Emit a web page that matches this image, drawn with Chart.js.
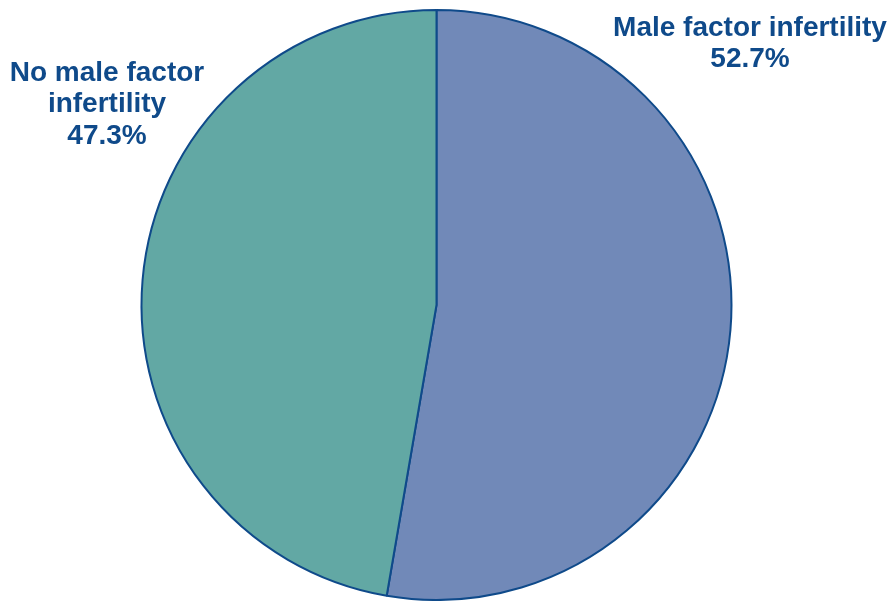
<!DOCTYPE html>
<html lang="en">
<head>
    <meta charset="UTF-8">
    <title>Male factor infertility</title>
    <script src="https://cdn.jsdelivr.net/npm/chart.js"></script>
    <style>
        html, body { margin: 0; padding: 0; background: #ffffff; }
        #wrap { width: 891px; height: 601px; position: relative; }
    </style>
</head>
<body>
<div id="wrap"><canvas id="pieChart"></canvas></div>

<script>
    // Chart data
    const labels = ['Male factor infertility', 'No male factor infertility'];
    const values = [52.7, 47.3];
    const colors = ['#7189b8', '#62a8a4'];
    // how each label is split into lines on the picture
    const labelLines = [
        ['Male factor infertility'],
        ['No male factor', 'infertility']
    ];

    // Draws the outside labels with their percentage
    const outsideLabels = {
        id: 'outsideLabels',
        afterDraw(chart) {
            const ctx = chart.ctx;
            const area = chart.chartArea;
            const spots = [
                {x: area.right - 123, y: 28},
                {x: area.left + 107, y: 73}
            ];
            ctx.save();
            ctx.font = 'bold 28px "Liberation Sans", Arial, sans-serif';
            ctx.fillStyle = '#0f4a8a';
            ctx.textAlign = 'center';
            ctx.textBaseline = 'middle';
            labelLines.forEach((lines, i) => {
                const all = lines.concat([values[i].toFixed(1) + '%']);
                all.forEach((t, j) => {
                    ctx.fillText(t, spots[i].x, spots[i].y + j * 31.5);
                });
            });
            ctx.restore();
        }
    };

    new Chart(document.getElementById('pieChart'), {
        type: 'pie',
        data: {
            labels: labels,
            datasets: [{
                data: values,
                backgroundColor: colors,
                borderColor: '#0f4a8a',
                borderWidth: 2
            }]
        },
        options: {
            responsive: true,
            maintainAspectRatio: false,
            animation: false,
            layout: { padding: { top: 9, bottom: 0, left: 0, right: 18 } },
            plugins: {
                legend: { display: false },
                tooltip: { enabled: false }
            }
        },
        plugins: [outsideLabels]
    });
</script>
</body>
</html>
